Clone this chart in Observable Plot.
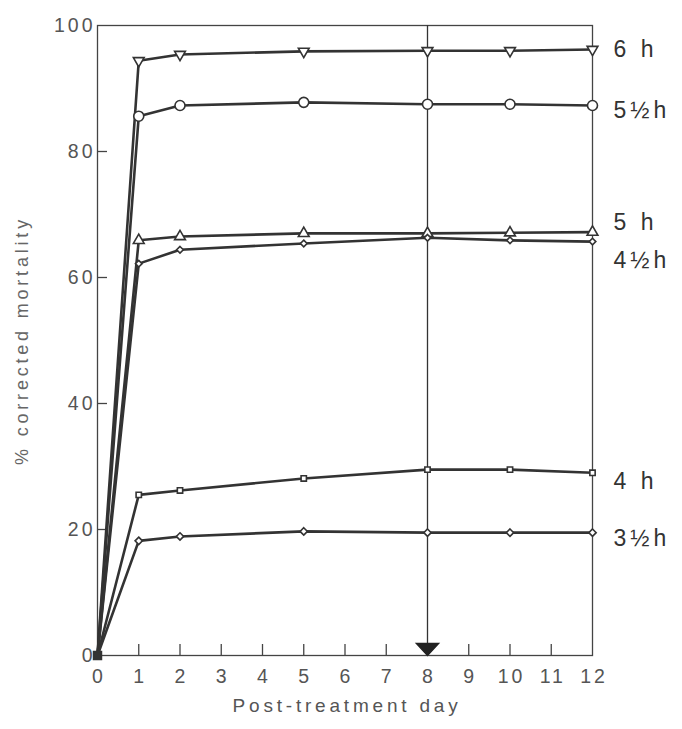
<!DOCTYPE html>
<html>
<head>
<meta charset="utf-8">
<script src="https://cdn.jsdelivr.net/npm/d3@7"></script>
<script src="https://cdn.jsdelivr.net/npm/@observablehq/plot@0.6"></script>
<style>
  html, body { margin: 0; padding: 0; background: #fff; }
  #chart svg text { letter-spacing: 3px; }
  #chart svg g.lbl text { letter-spacing: 3.8px; }
  #chart svg g.ser text { letter-spacing: 4px; }
</style>
</head>
<body>
<div id="chart"></div>
<script>
// ---- data ----
const days = [0, 1, 2, 5, 8, 10, 12];
const seriesNames = ["6 h", "5½h", "5 h", "4½h", "4 h", "3½h"];
const s6h   = [0, 94.4, 95.4, 95.9, 96.0, 96.0, 96.2];
const s5_5h = [0, 85.6, 87.3, 87.8, 87.5, 87.5, 87.3];
const s5h   = [0, 65.9, 66.5, 67.0, 67.0, 67.1, 67.2];
const s4_5h = [0, 62.2, 64.4, 65.4, 66.3, 65.9, 65.7];
const s4h   = [0, 25.5, 26.2, 28.1, 29.5, 29.5, 29.0];
const s3_5h = [0, 18.2, 18.9, 19.7, 19.5, 19.5, 19.5];
const labelY = [96.2, 86.5, 68.7, 62.7, 27.6, 18.6];
const xTicks = [0, 1, 2, 3, 4, 5, 6, 7, 8, 9, 10, 11, 12];
const yTicks = [0, 20, 40, 60, 80, 100];
const markDay = 8;
const xTitle = "Post-treatment day";
const yTitle = "% corrected mortality";

// ---- styling per series ----
const allSeries = [s6h, s5_5h, s5h, s4_5h, s4h, s3_5h];
const symbols = ["triangle", "circle", "triangle", "diamond2", "square", "diamond2"];
const rotations = [180, 0, 0, 0, 0, 0];
const radii = [4, 5, 4, 3, 3, 3.3];

const rows = [];
allSeries.forEach((vals, si) => {
  vals.forEach((v, i) => rows.push({series: seriesNames[si], si, day: days[i], value: v}));
});
const markerRows = rows.filter(d => d.day > 0);
const labels = seriesNames.map((name, i) => ({name, y: labelY[i]}));

const ink = "#333";
const downTri = {
  draw(ctx) {
    ctx.moveTo(-11, -12);
    ctx.lineTo(11, -12);
    ctx.lineTo(0, 0);
    ctx.closePath();
  }
};

const marks = [
  Plot.frame({stroke: "#444", strokeWidth: 1.3}),
  Plot.ruleX([markDay], {x: d => d, stroke: ink, strokeWidth: 1.3}),
  Plot.ruleX(xTicks.slice(1, -1), {x: d => d, y1: 0, y2: 0, insetTop: -11, stroke: "#444", strokeWidth: 1.3}),
  Plot.ruleY(yTicks.slice(1, -1), {y: d => d, x1: 0, x2: 0, insetRight: -10, stroke: "#444", strokeWidth: 1.3}),
  Plot.axisX({ticks: xTicks, tickSize: 0, tickPadding: 14, tickFormat: d => String(d), dx: 1.5,
    label: null, fontSize: 19.5, fill: "#555"}),
  Plot.axisY({ticks: yTicks, tickSize: 0, tickPadding: 2, tickFormat: d => String(d),
    label: null, fontSize: 19.5, fill: "#555"}),
  Plot.text([xTitle], {text: d => d, frameAnchor: "bottom", textAnchor: "middle", lineAnchor: "middle",
    dy: 50, dx: 2, fontSize: 19, fill: "#555", className: "lbl"}),
  Plot.text([yTitle], {text: d => d, frameAnchor: "left", textAnchor: "middle", lineAnchor: "middle",
    rotate: -90, dx: -75, fontSize: 18, fill: "#666", className: "lbl"}),
  Plot.line(rows, {x: "day", y: "value", z: "series", stroke: ink, strokeWidth: 2.6, curve: "linear"}),
];
symbols.forEach((sym, si) => {
  marks.push(Plot.dot(markerRows.filter(d => d.si === si), {
    x: "day", y: "value", symbol: sym, rotate: rotations[si], r: radii[si],
    fill: "white", stroke: ink, strokeWidth: 1.6
  }));
});
marks.push(
  Plot.dot([0], {x: d => d, y: d => d, symbol: "square", r: 4.5, fill: ink, stroke: ink}),
  Plot.dot([markDay], {x: d => d, y: () => 0, symbol: downTri, fill: "#222", stroke: "#222"}),
  Plot.text(labels, {x: () => 12, y: "y", text: "name", dx: 21, textAnchor: "start",
    fontSize: 23, fill: "#333", className: "ser"})
);

const chart = Plot.plot({
  width: 682,
  height: 729,
  marginLeft: 97,
  marginRight: 90,
  marginTop: 25,
  marginBottom: 74,
  x: {domain: [0, 12]},
  y: {domain: [0, 100]},
  style: {fontFamily: "'Liberation Sans', Arial, sans-serif", color: "#555", background: "white"},
  marks
});
document.getElementById("chart").append(chart);
</script>
</body>
</html>
